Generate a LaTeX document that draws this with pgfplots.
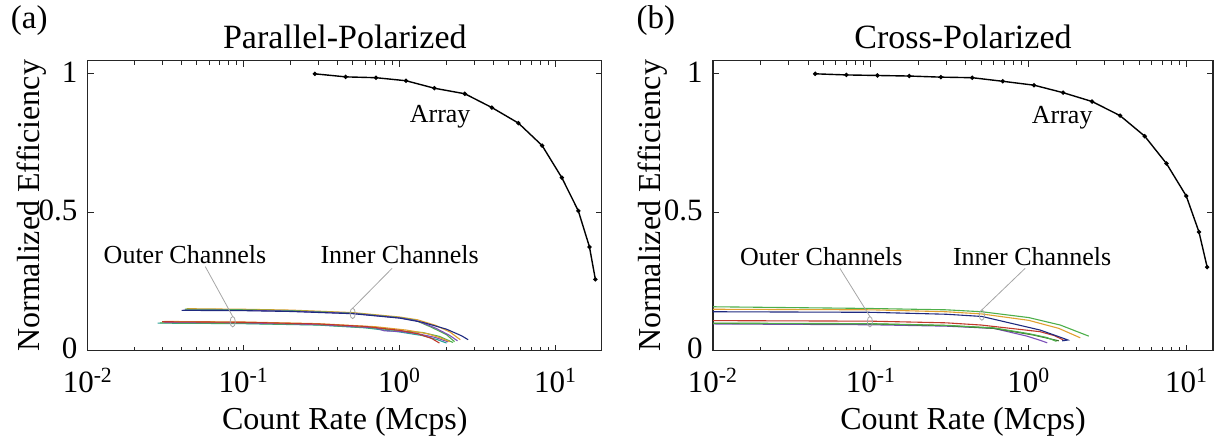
\documentclass[border=0pt]{standalone}
\usepackage{fontspec}
\setmainfont{Liberation Serif}
\usepackage{pgfplots}
\pgfplotsset{compat=1.18}

\definecolor{cgreen}{HTML}{4DAF4A}
\definecolor{corange}{HTML}{E0A030}
\definecolor{cblue}{HTML}{1F2A80}
\definecolor{cred}{HTML}{C0392B}
\definecolor{cpurple}{HTML}{7B4FB8}
\definecolor{cteal}{HTML}{2AA198}
\definecolor{colive}{HTML}{3B6E2A}

\tikzset{
  arr/.style={black, line width=0.7pt, mark=*, mark size=0.7pt},
  ch/.style={line width=0.55pt},
  lead/.style={gray!70, line width=0.4pt},
  note/.style={font=\fontsize{13}{15}\selectfont},
}

\begin{document}
\begin{tikzpicture}
\useasboundingbox (-43.9pt,-44.6pt) rectangle (566.1pt,175.4pt);

% (a) parallel-polarized
\begin{axis}[xmode=log, scale only axis, height=145pt, width=257pt,
    xmin=0.01, xmax=19.8, ymin=0, ymax=1.047,
    xtick={0.01,0.1,1,10},
    xticklabels={10\textsuperscript{-2},10\textsuperscript{-1},10\textsuperscript{0},10\textsuperscript{1}},
    minor xtick={0.02,0.03,0.04,0.05,0.06,0.07,0.08,0.09,0.2,0.3,0.4,0.5,0.6,0.7,0.8,0.9,2,3,4,5,6,7,8,9},
    ytick={0,0.5,1}, yticklabels={0,0.5,1},
    tick align=inside, major tick length=3pt, minor tick length=2pt,
    axis line style={line width=0.6pt, black!85},
    tick style={black!85, line width=0.5pt},
    tick label style={font=\fontsize{15.5}{18}\selectfont, inner sep=0.5pt},
    xticklabel style={anchor=base, yshift=-21pt},
    yticklabel style={anchor=east, xshift=-4.5pt, yshift=1pt},
    label style={font=\fontsize{16}{18}\selectfont},
    xlabel={Count Rate (Mcps)},
    ylabel={Normalized Efficiency},
    xlabel style={at={(axis description cs:0.5,0)}, anchor=base, yshift=-39.5pt},
    ylabel style={at={(axis description cs:-0.0934,0.5)}, anchor=base},
    title={Parallel-Polarized},
    title style={at={(axis description cs:0.5,1)}, anchor=base, yshift=0pt, font=\fontsize{17}{20}\selectfont},
    clip=false]
\addplot[ch, no markers, corange] coordinates {(0.043,0.152) (0.1,0.150) (0.2,0.147) (0.5,0.138) (1.0,0.122) (1.3,0.112) (1.7,0.092) (2.1,0.068) (2.45,0.040)};
\addplot[ch, no markers, cgreen] coordinates {(0.042,0.150) (0.1,0.148) (0.2,0.145) (0.5,0.136) (1.0,0.120) (1.25,0.111) (1.6,0.085) (2.0,0.058) (2.25,0.033)};
\addplot[ch, no markers, cpurple] coordinates {(0.041,0.147) (0.1,0.146) (0.2,0.143) (0.5,0.135) (1.0,0.119) (1.3,0.108) (1.7,0.082) (2.1,0.055) (2.35,0.036)};
\addplot[ch, no markers, cblue] coordinates {(0.040,0.146) (0.1,0.145) (0.2,0.142) (0.5,0.134) (1.0,0.118) (1.4,0.103) (2.0,0.078) (2.5,0.054) (2.75,0.040)};
\addplot[ch, no markers, cteal] coordinates {(0.028,0.100) (0.1,0.098) (0.3,0.093) (0.6,0.083) (1.0,0.068) (1.4,0.055) (1.75,0.040) (2.0,0.028)};
\addplot[ch, no markers, cgreen] coordinates {(0.029,0.101) (0.1,0.099) (0.3,0.094) (0.7,0.082) (1.0,0.072) (1.4,0.066) (1.8,0.052) (2.2,0.030)};
\addplot[ch, no markers, cpurple] coordinates {(0.031,0.103) (0.1,0.101) (0.3,0.095) (0.7,0.083) (0.8,0.072) (1.0,0.070) (1.3,0.062) (1.7,0.048) (2.05,0.032)};
\addplot[ch, no markers, corange] coordinates {(0.031,0.106) (0.1,0.104) (0.3,0.098) (0.7,0.087) (1.1,0.075) (1.5,0.062) (1.8,0.048) (2.1,0.033)};
\addplot[ch, no markers, cred] coordinates {(0.030,0.105) (0.1,0.103) (0.3,0.097) (0.6,0.088) (1.0,0.074) (1.3,0.062) (1.6,0.045) (1.8,0.028)};
\addplot[arr] coordinates {(0.286,1.0) (0.45,0.989) (0.705,0.986) (1.10,0.975) (1.67,0.948) (2.62,0.928) (3.91,0.878) (5.78,0.822) (8.2,0.741) (10.97,0.625) (14.0,0.505) (16.5,0.375) (18.0,0.258)};
\node[note] at (axis cs:1.82,0.846) {Array};
\node[note] at (axis cs:0.042,0.349) {Outer Channels};
\node[note] at (axis cs:1.0,0.349) {Inner Channels};
\draw[lead] (axis cs:0.0567,0.304) -- ([yshift=2.6pt]axis cs:0.085,0.105);
\draw[lead] (axis cs:0.895,0.298) -- ([yshift=2.6pt]axis cs:0.5,0.135);
\draw[lead] (axis cs:0.085,0.105) ellipse [x radius=1.3pt, y radius=2.6pt];
\draw[lead] (axis cs:0.5,0.135) ellipse [x radius=1.3pt, y radius=2.6pt];
\node[font=\fontsize{16.5}{18}\selectfont] at ([xshift=-29.3pt, yshift=20pt]rel axis cs:0,1) {(a)};
\end{axis}

% (b) cross-polarized
\begin{axis}[at={(312.6pt,0pt)},
    xmode=log, scale only axis, height=145pt, width=250pt,
    xmin=0.01, xmax=14.7, ymin=0, ymax=1.047,
    xtick={0.01,0.1,1,10},
    xticklabels={10\textsuperscript{-2},10\textsuperscript{-1},10\textsuperscript{0},10\textsuperscript{1}},
    minor xtick={0.02,0.03,0.04,0.05,0.06,0.07,0.08,0.09,0.2,0.3,0.4,0.5,0.6,0.7,0.8,0.9,2,3,4,5,6,7,8,9},
    ytick={0,0.5,1}, yticklabels={0,0.5,1},
    tick align=inside, major tick length=3pt, minor tick length=2pt,
    axis line style={line width=0.6pt, black!85},
    tick style={black!85, line width=0.5pt},
    tick label style={font=\fontsize{15.5}{18}\selectfont, inner sep=0.5pt},
    xticklabel style={anchor=base, yshift=-21pt},
    yticklabel style={anchor=east, xshift=-4.5pt, yshift=1pt},
    label style={font=\fontsize{16}{18}\selectfont},
    xlabel={Count Rate (Mcps)},
    ylabel={Normalized Efficiency},
    xlabel style={at={(axis description cs:0.5,0)}, anchor=base, yshift=-39.5pt},
    ylabel style={at={(axis description cs:-0.106,0.5)}, anchor=base},
    title={Cross-Polarized},
    title style={at={(axis description cs:0.5,1)}, anchor=base, yshift=0pt, font=\fontsize{17}{20}\selectfont},
    clip=false]
\addplot[ch, no markers, cpurple] coordinates {(0.01,0.097) (0.1,0.094) (0.3,0.089) (0.6,0.081) (0.975,0.053) (1.15,0.040) (1.31,0.029)};
\addplot[ch, no markers, colive] coordinates {(0.01,0.099) (0.1,0.097) (0.3,0.091) (0.6,0.081) (1.07,0.057) (1.3,0.046) (1.55,0.036)};
\addplot[ch, no markers, cgreen] coordinates {(0.01,0.100) (0.1,0.098) (0.3,0.092) (0.6,0.083) (1.0,0.062) (1.3,0.048) (1.5,0.034)};
\addplot[ch, no markers, cred] coordinates {(0.01,0.109) (0.1,0.107) (0.3,0.101) (0.5,0.093) (1.18,0.069) (1.45,0.055) (1.66,0.039)};
\addplot[ch, no markers, cgreen] coordinates {(0.01,0.159) (0.094,0.153) (0.3,0.148) (0.505,0.141) (1.0,0.120) (1.585,0.093) (2.4,0.053)};
\addplot[ch, no markers, corange] coordinates {(0.01,0.150) (0.1,0.148) (0.3,0.141) (0.505,0.133) (1.0,0.110) (1.55,0.081) (2.12,0.047)};
\addplot[ch, no markers, cblue] coordinates {(0.01,0.141) (0.1,0.139) (0.3,0.132) (0.505,0.124) (1.18,0.075) (1.66,0.045) (1.77,0.039) (1.63,0.036)};
\addplot[arr] coordinates {(0.0444,1.0) (0.070,0.996) (0.110,0.994) (0.175,0.992) (0.278,0.988) (0.439,0.986) (0.685,0.973) (1.08,0.959) (1.65,0.932) (2.52,0.900) (3.79,0.849) (5.43,0.775) (7.46,0.676) (9.95,0.559) (11.98,0.429) (13.5,0.302)};
\node[note] at (axis cs:1.63,0.842) {Array};
\node[note] at (axis cs:0.0485,0.341) {Outer Channels};
\node[note] at (axis cs:1.05,0.341) {Inner Channels};
\draw[lead] (axis cs:0.0636,0.298) -- ([yshift=2.6pt]axis cs:0.0986,0.105);
\draw[lead] (axis cs:0.95,0.298) -- ([yshift=2.6pt]axis cs:0.505,0.129);
\draw[lead] (axis cs:0.0986,0.105) ellipse [x radius=1.3pt, y radius=2.6pt];
\draw[lead] (axis cs:0.505,0.129) ellipse [x radius=1.3pt, y radius=2.6pt];
\node[font=\fontsize{16.5}{18}\selectfont] at ([xshift=-28.6pt, yshift=20pt]rel axis cs:0,1) {(b)};
\end{axis}
\end{tikzpicture}
\end{document}
